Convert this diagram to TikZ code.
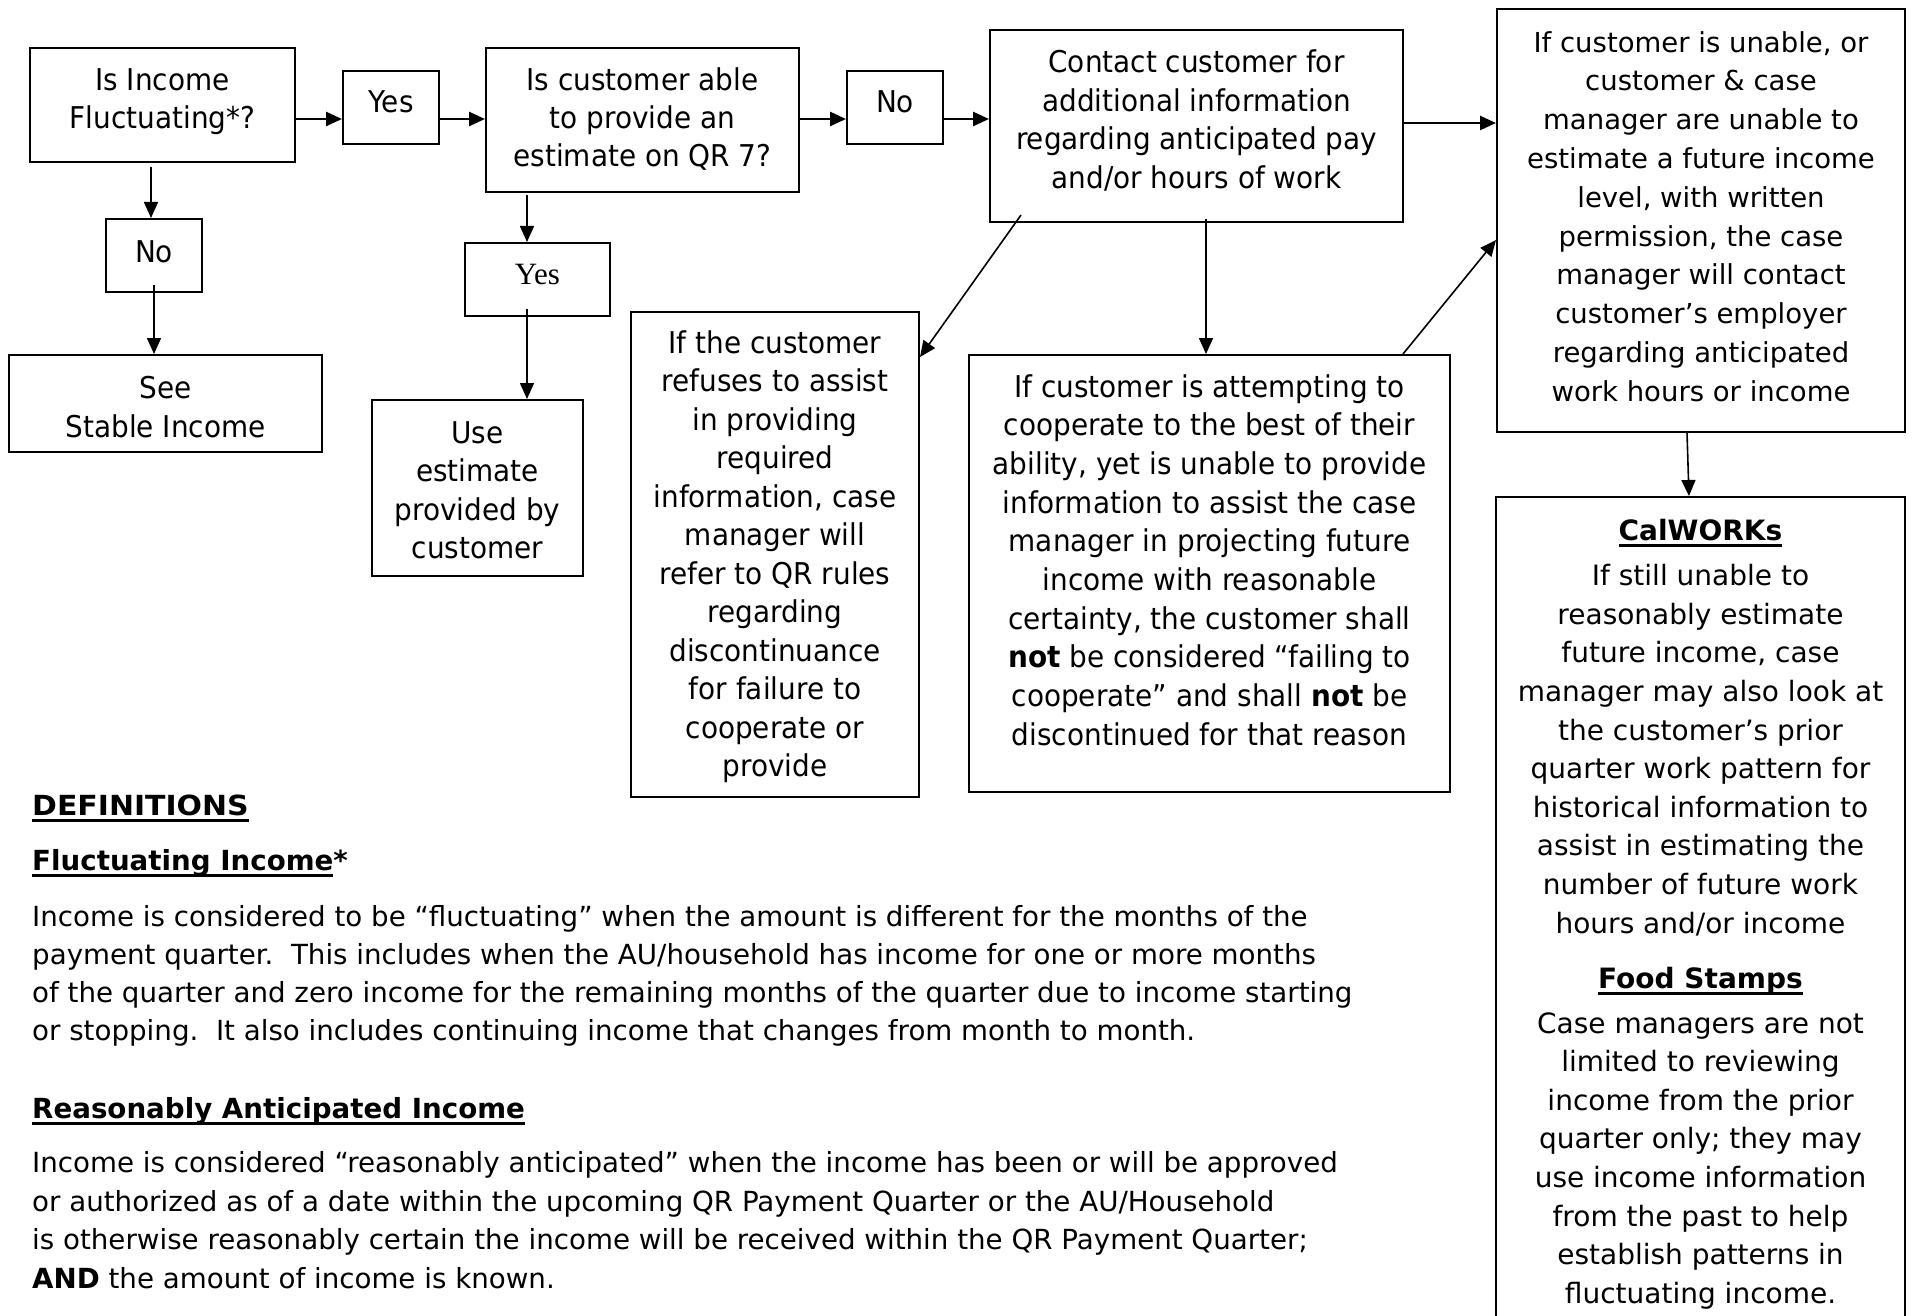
\documentclass[tikz,border=0pt]{standalone}
\usepackage{fontspec}
\usepackage{graphicx}
\setmainfont{DejaVu Sans}
\newfontfamily\tah[FakeStretch=0.93]{DejaVu Sans}
\newfontfamily\ver{DejaVu Sans}
\newfontfamily\tms{Liberation Serif}
\usetikzlibrary{arrows.meta}
\newcommand\myul[1]{\setbox0\hbox{#1}\rlap{\rule[-7pt]{\wd0}{3pt}}\box0}
\tikzset{
  box/.style={draw, line width=2pt, inner sep=0pt},
  tt/.style={font=\tah\fontsize{30}{38.5}\selectfont, align=center, inner sep=0pt, anchor=base},
  vt/.style={font=\ver\fontsize{27.5}{38.8}\selectfont, align=center, inner sep=0pt, anchor=base},
  dt/.style={font=\ver\fontsize{27.7}{38}\selectfont, inner sep=0pt, anchor=base west},
  arr/.style={-{Triangle[length=16pt,width=14pt]}, line width=1.6pt},
  harr/.style={arr, line width=2.6pt},
}
\begin{document}
\begin{tikzpicture}[x=1pt,y=-1pt]
\useasboundingbox[fill=white] (0,0) rectangle (1912,1316);
% boxes
\node[box, minimum width=265, minimum height=114] (b1) at (162.5,105) {};
\node[box, minimum width=96, minimum height=73] (yes1) at (391,107.5) {};
\node[box, minimum width=313, minimum height=144] (qr7) at (642.5,120) {};
\node[box, minimum width=96, minimum height=73] (no2) at (895,107.5) {};
\node[box, minimum width=413, minimum height=192] (contact) at (1196.5,126) {};
\node[box, minimum width=408, minimum height=423] (rtop) at (1701,220.5) {};
\node[box, minimum width=96, minimum height=73] (no1) at (154,255.5) {};
\node[box, minimum width=313, minimum height=97] (stable) at (165.5,403.5) {};
\node[box, minimum width=145, minimum height=73] (yes2) at (537.5,279.5) {};
\node[box, minimum width=211, minimum height=176] (use) at (477.5,488) {};
\node[box, minimum width=288, minimum height=485] (refuse) at (775,554.5) {};
\node[box, minimum width=481, minimum height=437] (mid) at (1209.5,573.5) {};
\node[box, minimum width=409, minimum height=843] (rbot) at (1700.5,918.5) {};
% texts (anchor base = baseline of the last line)
\node[tt, font=\tah\fontsize{30}{38}\selectfont] (tb1) at (162.5,129) {Is Income\\Fluctuating*?};
\node[tt] (tyes1) at (391,113) {Yes};
\node[tt, font=\tah\fontsize{30}{38}\selectfont] (tqr7) at (642.5,167) {Is customer able\\to provide an\\estimate on QR 7?};
\node[tt] (tno2) at (895,113) {No};
\node[tt] (tcontact) at (1196.5,188.5) {Contact customer for\\additional information\\regarding anticipated pay\\and/or hours of work};
\node[tt] (tno1) at (154,262) {No};
\node[tt, font=\tah\fontsize{30}{39}\selectfont] (tstable) at (165.5,437) {See\\Stable Income};
\node[tt, font=\tms\fontsize{31}{36}\selectfont] (tyes2) at (537.5,284) {Yes};
\node[tt] (tuse) at (477.5,558.5) {Use\\estimate\\provided by\\customer};
\node[tt] (trefuse) at (775,776.5) {If the customer\\refuses to assist\\in providing\\required\\information, case\\manager will\\refer to QR rules\\regarding\\discontinuance\\for failure to\\cooperate or\\provide};
\node[tt, font=\tah\fontsize{30}{38.7}\selectfont] (tmid) at (1209.5,745.3) {If customer is attempting to\\cooperate to the best of their\\ability, yet is unable to provide\\information to assist the case\\manager in projecting future\\income with reasonable\\certainty, the customer shall\\\textbf{not} be considered “failing to\\cooperate” and shall \textbf{not} be\\discontinued for that reason};
\node[vt] (trtop) at (1701,401.2) {If customer is unable, or\\customer \& case\\manager are unable to\\estimate a future income\\level, with written\\permission, the case\\manager will contact\\customer’s employer\\regarding anticipated\\work hours or income};
\node[vt, font=\ver\fontsize{28}{38.6}\selectfont] (tcal) at (1700.5,540) {\myul{\textbf{CalWORKs}}};
\node[vt, font=\ver\fontsize{28}{38.6}\selectfont] (tcaltxt) at (1700.5,933) {If still unable to\\reasonably estimate\\future income, case\\manager may also look at\\the customer’s prior\\quarter work pattern for\\historical information to\\assist in estimating the\\number of future work\\hours and/or income};
\node[vt, font=\ver\fontsize{28}{38.6}\selectfont] (tfood) at (1700.5,988) {\myul{\textbf{Food Stamps}}};
\node[vt, font=\ver\fontsize{28}{38.6}\selectfont] (tfoodtxt) at (1700.5,1303.2) {Case managers are not\\limited to reviewing\\income from the prior\\quarter only; they may\\use income information\\from the past to help\\establish patterns in\\fluctuating income.};
% definitions
\node[dt] (d0) at (32,815) {\myul{\scalebox{1.08}[1]{\textbf{DEFINITIONS}}}};
\node[dt] (d1) at (32,870) {\myul{\textbf{Fluctuating Income}}\textbf{*}};
\node[dt] (d2) at (32,926) {Income is considered to be “fluctuating” when the amount is different for the months of the};
\node[dt] (d3) at (32,964) {payment quarter.~~This includes when the AU/household has income for one or more months};
\node[dt] (d4) at (32,1002) {of the quarter and zero income for the remaining months of the quarter due to income starting};
\node[dt] (d5) at (32,1040) {or stopping.~~It also includes continuing income that changes from month to month.};
\node[dt] (d6) at (32,1118) {\myul{\textbf{Reasonably Anticipated Income}}};
\node[dt] (d7) at (32,1172) {Income is considered “reasonably anticipated” when the income has been or will be approved};
\node[dt] (d8) at (32,1211) {or authorized as of a date within the upcoming QR Payment Quarter or the AU/Household};
\node[dt] (d9) at (32,1249) {is otherwise reasonably certain the income will be received within the QR Payment Quarter;};
\node[dt] (d10) at (32,1288) {\textbf{AND} the amount of income is known.};
% helper coordinates
\coordinate (hy) at (0,119);
\coordinate (hy2) at (0,123);
\coordinate (v1) at (151,167);
\coordinate (v2) at (527,195);
\coordinate (v3) at (527,309);
\coordinate (v4) at (1206,219);
\coordinate (d1s) at (1021,215);
\coordinate (d1t) at (0,357);
\coordinate (d2s) at (1403,0);
\coordinate (d2t) at (0,240);
% connectors
\draw[harr] (b1.east |- hy) -- (yes1.west |- hy);
\draw[harr] (yes1.east |- hy) -- (qr7.west |- hy);
\draw[harr] (qr7.east |- hy) -- (no2.west |- hy);
\draw[harr] (no2.east |- hy) -- (contact.west |- hy);
\draw[harr] (contact.east |- hy2) -- (rtop.west |- hy2);
\draw[arr] (v1) -- (v1 |- no1.north);
\draw[arr] ([yshift=8pt]no1.south) -- (no1.south |- stable.north);
\draw[arr] (v2) -- (v2 |- yes2.north);
\draw[arr] (v3) -- (v3 |- use.north);
\draw[arr] (d1s) -- (refuse.east |- d1t);
\draw[arr] (v4) -- (v4 |- mid.north);
\draw[arr] (mid.north -| d2s) -- (rtop.west |- d2t);
\draw[arr] ([xshift=-14pt]rtop.south) -- ([xshift=-11.5pt]rbot.north);
\end{tikzpicture}
\end{document}
